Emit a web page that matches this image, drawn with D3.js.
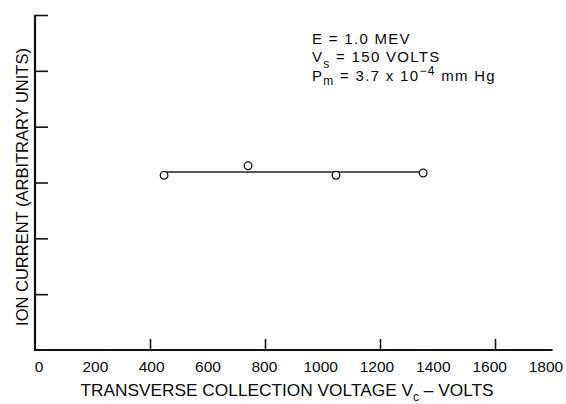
<!DOCTYPE html>
<html>
<head>
<meta charset="utf-8">
<script src="https://cdn.jsdelivr.net/npm/d3@7"></script>
<style>
  body { margin: 0; background: #fff; }
  text { font-family: "Liberation Sans", Arial, sans-serif; fill: #0a0a0a; }
</style>
</head>
<body>
<svg id="chart" width="566" height="404"></svg>
<script>
// Measured points (transverse collection voltage, ion current)
const voltage = [449, 741, 1047, 1350];
const current = [3.13, 3.30, 3.13, 3.17];
// Straight fit line drawn through the points
const fitVoltage = [449, 1350];
const fitCurrent = [3.19, 3.19];

const xLabelTicks = [0, 200, 400, 600, 800, 1000, 1200, 1400, 1600, 1800];
const xMarkTicks = [400, 800, 1200, 1600];
const yMarkTicks = [1, 2, 3, 4, 5, 6];

const svg = d3.select("#chart");

const x = d3.scaleLinear().domain([0, 1800]).range([35, 552.5]);
const y = d3.scaleLinear().domain([0, 6]).range([350, 15]);
// tick labels sit a little inside the tick marks in the original
const xLab = d3.scaleLinear().domain([0, 1800]).range([39, 546]);

// Axes (ticks point inward, no labels on the y axis)
svg.append("g")
    .attr("transform", "translate(" + x(0) + ",0)")
    .call(d3.axisLeft(y).tickValues(yMarkTicks).tickSize(-13).tickFormat("").tickSizeOuter(0))
    .call(g => g.select(".domain").remove())
    .call(g => g.selectAll("line").attr("stroke", "#111").attr("stroke-width", 1.6));

svg.append("g")
    .attr("transform", "translate(0," + y(0) + ")")
    .call(d3.axisBottom(x).tickValues(xMarkTicks).tickSize(-11).tickFormat("").tickSizeOuter(0))
    .call(g => g.select(".domain").remove())
    .call(g => g.selectAll("line").attr("stroke", "#111").attr("stroke-width", 1.6));

// Axis lines
svg.append("line")
    .attr("x1", x(0)).attr("x2", x(0))
    .attr("y1", y(6)).attr("y2", y(0))
    .attr("stroke", "#111").attr("stroke-width", 2.2);
svg.append("line")
    .attr("x1", x(0) - 1).attr("x2", x(1800))
    .attr("y1", y(0)).attr("y2", y(0))
    .attr("stroke", "#111").attr("stroke-width", 2.2);

// X tick labels
svg.selectAll(".xlab")
    .data(xLabelTicks)
    .enter().append("text")
    .attr("class", "xlab")
    .attr("x", d => xLab(d))
    .attr("y", 372)
    .attr("text-anchor", "middle")
    .attr("font-size", "15.5px")
    .text(d => d);

// Axis titles
const xt = svg.append("text")
    .attr("x", 287)
    .attr("y", 396)
    .attr("text-anchor", "middle")
    .attr("font-size", "17.3px");
xt.append("tspan").text("TRANSVERSE COLLECTION VOLTAGE V");
xt.append("tspan").attr("dy", 5).attr("font-size", "12px").text("c");
xt.append("tspan").attr("dy", -5).text(" \u2013 VOLTS");

svg.append("text")
    .attr("transform", "translate(28,187) rotate(-90)")
    .attr("text-anchor", "middle")
    .attr("font-size", "16.5px")
    .text("ION CURRENT (ARBITRARY UNITS)");

// Fit line
const line = d3.line().x(d => x(d[0])).y(d => y(d[1]));
svg.append("path")
    .datum(d3.zip(fitVoltage, fitCurrent))
    .attr("d", line)
    .attr("fill", "none")
    .attr("stroke", "#222")
    .attr("stroke-width", 1.5);

// Points
svg.selectAll(".pt")
    .data(d3.zip(voltage, current))
    .enter().append("circle")
    .attr("class", "pt")
    .attr("cx", d => x(d[0]))
    .attr("cy", d => y(d[1]))
    .attr("r", 3.8)
    .attr("fill", "#fff")
    .attr("stroke", "#111")
    .attr("stroke-width", 1.3);

// Annotation
const note = svg.append("g").attr("font-size", "15px").attr("letter-spacing", "1.3px");
note.append("text").attr("x", 312).attr("y", 44).text("E = 1.0 MEV");
const l2 = note.append("text").attr("x", 312).attr("y", 62);
l2.append("tspan").text("V");
l2.append("tspan").attr("dy", 6).attr("font-size", "12px").text("s");
l2.append("tspan").attr("dy", -6).text(" = 150 VOLTS");
const l3 = note.append("text").attr("x", 312).attr("y", 81);
l3.append("tspan").text("P");
l3.append("tspan").attr("dy", 4).attr("font-size", "12px").text("m");
l3.append("tspan").attr("dy", -4).text(" = 3.7 x 10");
l3.append("tspan").attr("dy", -6).attr("font-size", "12px").text("\u22124");
l3.append("tspan").attr("dy", 6).text(" mm Hg");
</script>
</body>
</html>
